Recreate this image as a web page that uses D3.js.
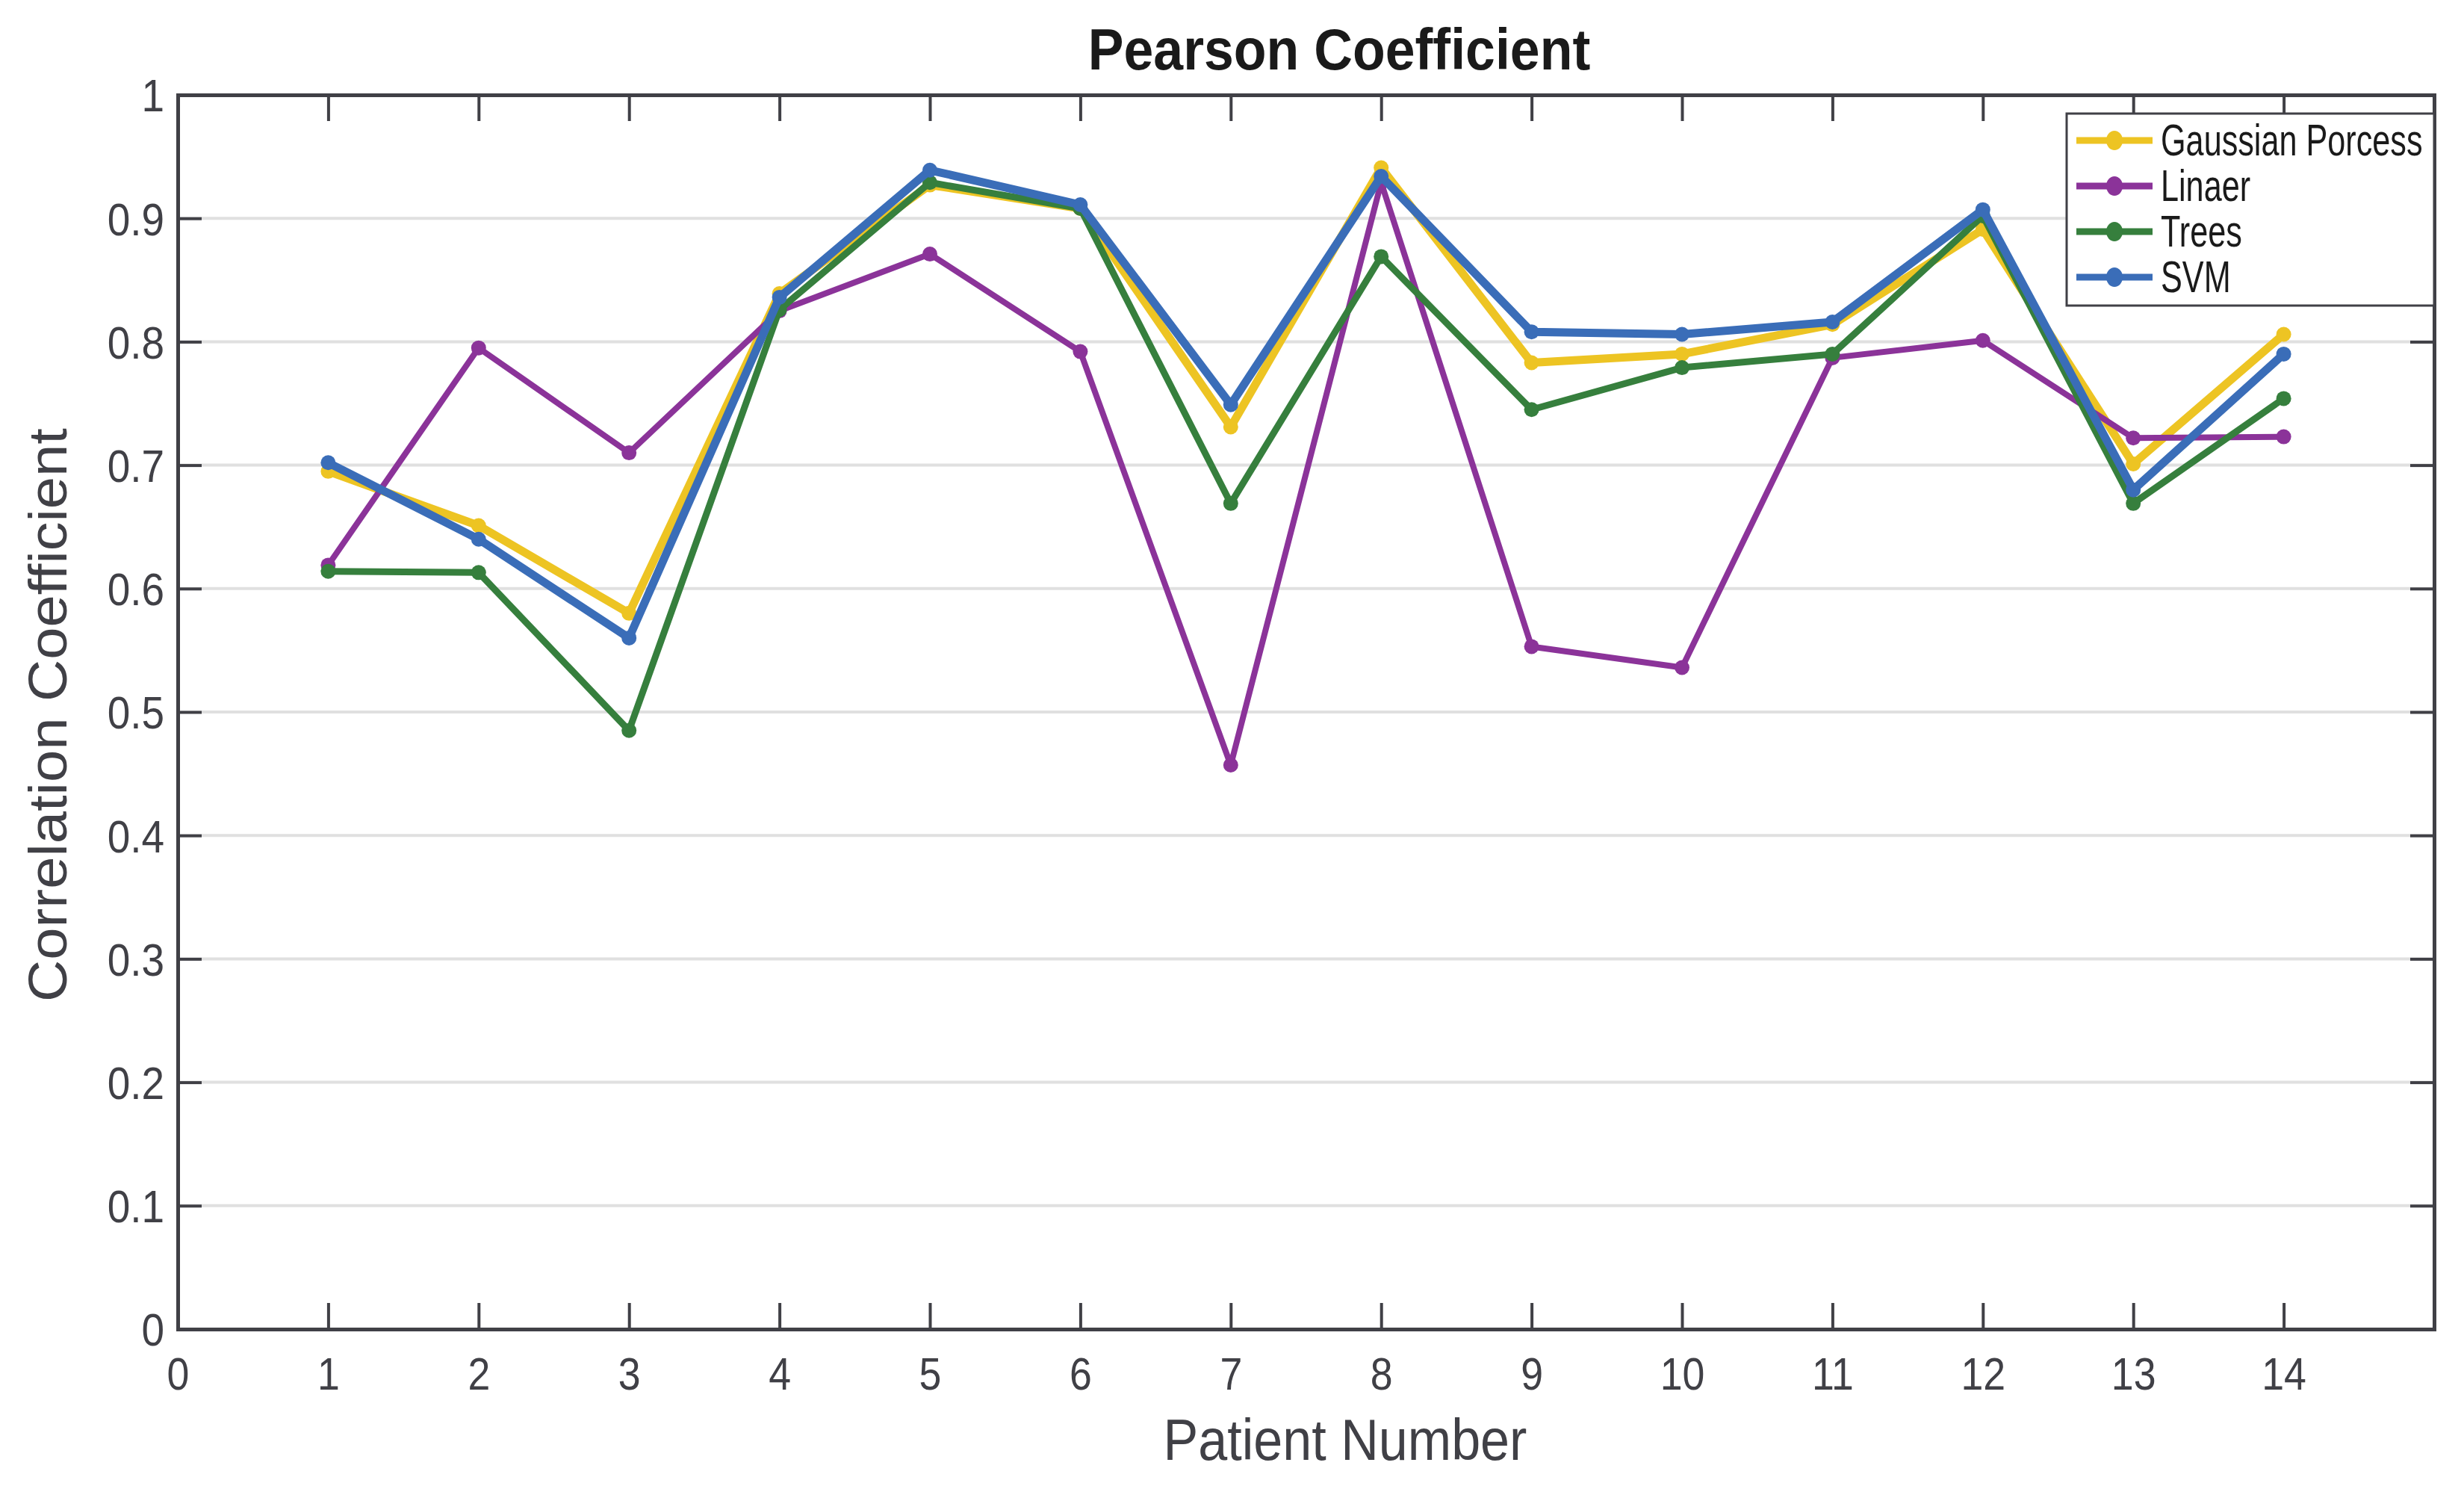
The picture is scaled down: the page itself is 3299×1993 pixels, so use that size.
<!DOCTYPE html>
<html>
<head>
<meta charset="utf-8">
<script src="https://cdnjs.cloudflare.com/ajax/libs/d3/7.8.5/d3.min.js"></script>
<style>
    body { margin: 0; background: #ffffff; }
    text { font-family: "Liberation Sans", Arial, Helvetica, sans-serif; }
</style>
</head>
<body>
<svg id="chart"></svg>
<script>
'use strict';

var patients = [1, 2, 3, 4, 5, 6, 7, 8, 9, 10, 11, 12, 13, 14];
var xTicks = [0, 1, 2, 3, 4, 5, 6, 7, 8, 9, 10, 11, 12, 13, 14];
var yTicks = [0, 0.1, 0.2, 0.3, 0.4, 0.5, 0.6, 0.7, 0.8, 0.9, 1];

var seriesNames = ["Gaussian Porcess", "Linaer", "Trees", "SVM"];
var gaussian = [0.695, 0.651, 0.580, 0.839, 0.927, 0.908, 0.731, 0.941, 0.783, 0.790, 0.814, 0.891, 0.701, 0.806];
var linaer   = [0.619, 0.795, 0.710, 0.825, 0.871, 0.792, 0.457, 0.929, 0.553, 0.536, 0.787, 0.801, 0.722, 0.723];
var trees    = [0.614, 0.613, 0.485, 0.826, 0.929, 0.908, 0.669, 0.869, 0.745, 0.779, 0.790, 0.902, 0.669, 0.754];
var svm      = [0.702, 0.640, 0.560, 0.836, 0.939, 0.911, 0.749, 0.934, 0.808, 0.806, 0.816, 0.907, 0.680, 0.790];

function squeeze(sel, factor) {
    // the original text is a bit condensed, so shrink each label horizontally
    sel.each(function() {
        var w = this.getComputedTextLength();
        d3.select(this)
            .attr("textLength", w * factor)
            .attr("lengthAdjust", "spacingAndGlyphs");
    });
}

function draw() {
    var width = 3299,
        height = 1993,
        left = 238, right = 3259, top = 127, bottom = 1779;

    var axisColor = "#404046";
    var colors = ["#EDC423", "#8B3399", "#367F3D", "#3A6DB8"];
    var widths = [11, 8, 9, 11];
    var values = [gaussian, linaer, trees, svm];

    var x = d3.scaleLinear().domain([0, 15]).range([left, right]);
    var y = d3.scaleLinear().domain([0, 1]).range([bottom, top]);

    var svg = d3.select("#chart")
                .attr("width", width)
                .attr("height", height);

    svg.append("rect")
        .attr("width", width)
        .attr("height", height)
        .attr("fill", "#ffffff");

    // grid
    svg.append("g")
        .selectAll("line")
        .data(yTicks.slice(1, -1))
        .enter().append("line")
            .attr("x1", left).attr("x2", right)
            .attr("y1", function(d) { return y(d); })
            .attr("y2", function(d) { return y(d); })
            .attr("stroke", "#e0e0e0")
            .attr("stroke-width", 4);

    // axes, ticks inside, on all four sides
    var bottomAxis = d3.axisBottom(x).tickValues(xTicks).tickSize(-35).tickPadding(42).tickFormat(d3.format("d"));
    var topAxis = d3.axisTop(x).tickValues(xTicks).tickSize(-35).tickFormat("");
    var leftAxis = d3.axisLeft(y).tickValues(yTicks).tickSize(-32).tickPadding(50).tickFormat(function(d) { return d3.format("")(+d.toFixed(1)); });
    var rightAxis = d3.axisRight(y).tickValues(yTicks).tickSize(-32).tickFormat("");

    var gb = svg.append("g").attr("transform", "translate(0," + bottom + ")").call(bottomAxis);
    var gt = svg.append("g").attr("transform", "translate(0," + top + ")").call(topAxis);
    var gl = svg.append("g").attr("transform", "translate(" + left + ",0)").call(leftAxis);
    var gr = svg.append("g").attr("transform", "translate(" + right + ",0)").call(rightAxis);

    [gb, gt, gl, gr].forEach(function(g) {
        g.select(".domain").attr("stroke", axisColor).attr("stroke-width", 5);
        g.selectAll(".tick line").attr("stroke", axisColor).attr("stroke-width", 4);
        g.selectAll(".tick text")
            .attr("fill", axisColor)
            .style("font-size", "61px");
    });
    gb.selectAll(".tick text").attr("dy", "0.71em").attr("y", 38);
    gl.selectAll(".tick text").attr("x", -18).attr("dy", "0.36em");
    squeeze(gb.selectAll(".tick text"), 0.88);
    squeeze(gl.selectAll(".tick text"), 0.9);

    // series
    var line = d3.line()
                .x(function(d, i) { return x(patients[i]); })
                .y(function(d) { return y(d); });

    var series = svg.selectAll(".series")
                    .data(values)
                .enter().append("g")
                    .attr("class", "series");

    series.append("path")
        .attr("d", line)
        .attr("fill", "none")
        .attr("stroke", function(d, i) { return colors[i]; })
        .attr("stroke-width", function(d, i) { return widths[i]; })
        .attr("stroke-linejoin", "round");

    series.each(function(vals, i) {
        d3.select(this).selectAll("circle")
            .data(vals)
            .enter().append("circle")
                .attr("cx", function(d, j) { return x(patients[j]); })
                .attr("cy", function(d) { return y(d); })
                .attr("r", 10)
                .attr("fill", colors[i]);
    });

    // title and labels
    var title = svg.append("text")
        .attr("x", 1793).attr("y", 93)
        .attr("text-anchor", "middle")
        .style("font-size", "77px")
        .style("font-weight", "bold")
        .attr("fill", "#1a1a1a")
        .text("Pearson Coefficient");
    squeeze(title, 0.93);

    var xlabel = svg.append("text")
        .attr("x", 1801).attr("y", 1954)
        .attr("text-anchor", "middle")
        .style("font-size", "77px")
        .attr("fill", axisColor)
        .text("Patient Number");
    squeeze(xlabel, 0.91);

    var ylabel = svg.append("text")
        .attr("transform", "translate(89,957) rotate(-90)")
        .attr("text-anchor", "middle")
        .style("font-size", "72px")
        .attr("fill", axisColor)
        .text("Correlation Coefficient");
    squeeze(ylabel, 1.08);

    // legend
    var legend = svg.append("g");
    legend.append("rect")
        .attr("x", 2767).attr("y", 152)
        .attr("width", 3259 - 2767).attr("height", 409 - 152)
        .attr("fill", "#ffffff")
        .attr("stroke", axisColor)
        .attr("stroke-width", 3);

    var rows = legend.selectAll(".row")
                    .data(seriesNames)
                .enter().append("g")
                    .attr("class", "row")
                    .attr("transform", function(d, i) { return "translate(0," + (188 + i * 61) + ")"; });

    rows.append("line")
        .attr("x1", 2780).attr("x2", 2882)
        .attr("stroke", function(d, i) { return colors[i]; })
        .attr("stroke-width", 9);
    rows.append("ellipse")
        .attr("cx", 2831)
        .attr("rx", 11).attr("ry", 13)
        .attr("fill", function(d, i) { return colors[i]; });
    var labels = rows.append("text")
        .attr("x", 2893).attr("y", 20)
        .style("font-size", "60px")
        .attr("fill", "#1a1a1a")
        .text(function(d) { return d; });
    squeeze(labels, 0.72);
}

draw();
</script>
</body>
</html>
